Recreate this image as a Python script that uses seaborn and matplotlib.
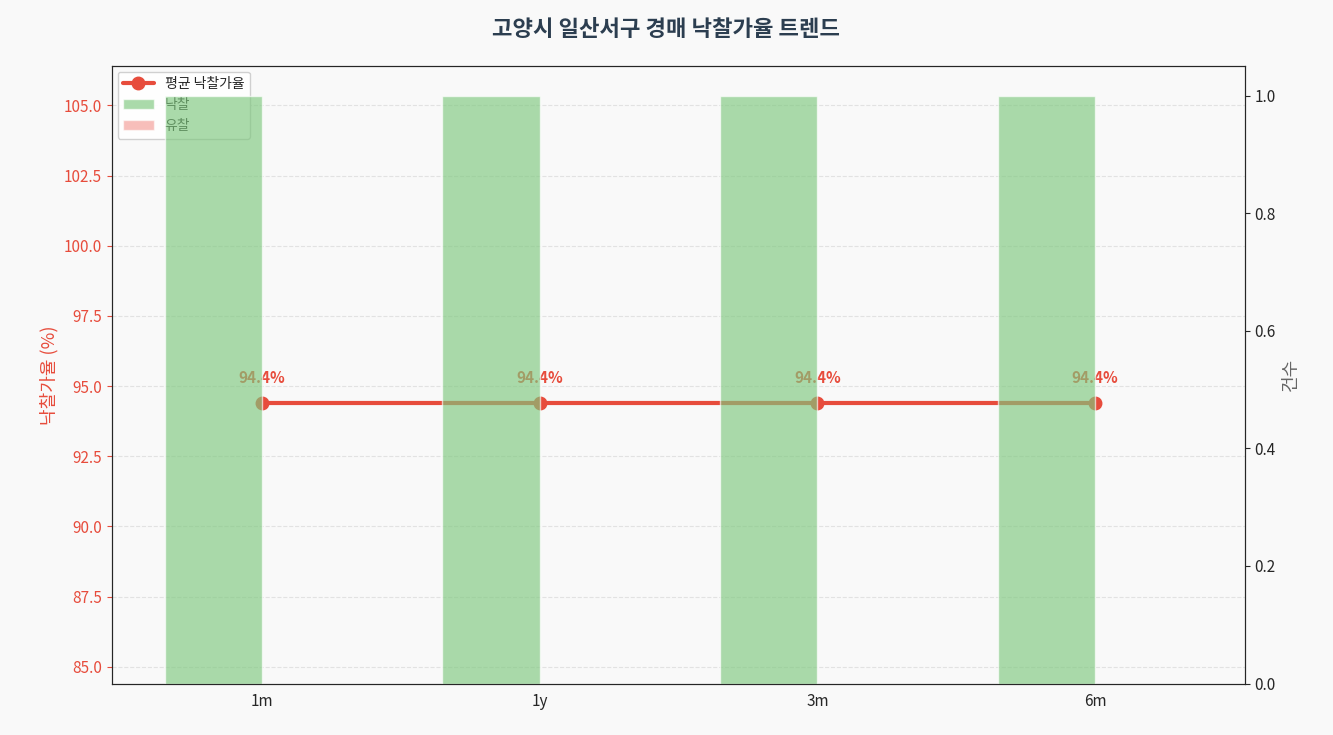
import matplotlib
matplotlib.use("Agg")
import matplotlib.pyplot as plt
import seaborn as sns
import numpy as np

periods = ["1m", "1y", "3m", "6m"]
avg_rate = [94.4, 94.4, 94.4, 94.4]
sold = [1, 1, 1, 1]
failed = [0, 0, 0, 0]

sns.set_style("white")
plt.rcParams['font.family'] = ['Noto Sans CJK KR', 'DejaVu Sans']
plt.rcParams['axes.unicode_minus'] = False

fig, ax = plt.subplots(figsize=(13.33, 7.35), dpi=100)
fig.patch.set_facecolor("#f9f9f9")
ax.set_facecolor("#f9f9f9")
x = np.arange(len(periods))

ax.plot(x, avg_rate, color="#e74c3c", lw=3, marker="o", ms=9, label="평균 낙찰가율", zorder=2)
for xi, v in zip(x, avg_rate):
    ax.annotate(f"{v:.1f}%", (xi, v), xytext=(0, 14), textcoords="offset points",
                ha="center", color="#e74c3c", fontsize=11, fontweight="bold")
ax.set_ylim(84.4, 106.4)
ax.set_xlim(-0.54, 3.54)
ax.set_xticks(x)
ax.set_xticklabels(periods, fontsize=11)
ax.set_ylabel("낙찰가율 (%)", color="#e74c3c", fontsize=13)
ax.tick_params(axis="y", colors="#e74c3c", labelsize=11)
ax.grid(axis="y", ls="--", alpha=0.5)

ax2 = ax.twinx()
ax2.bar(x - 0.175, sold, width=0.35, color="#7ec87e", alpha=0.65, label="낙찰")
ax2.bar(x + 0.175, failed, width=0.35, color="#f28b82", alpha=0.55, label="유찰")
ax2.set_ylim(0, 1.05)
ax2.set_ylabel("건수", color="#666666", fontsize=13)
ax2.tick_params(axis="y", labelsize=11)

h1, l1 = ax.get_legend_handles_labels()
h2, l2 = ax2.get_legend_handles_labels()
ax.legend(h1 + h2, l1 + l2, loc="upper left", fontsize=10, framealpha=0.9,
          borderaxespad=0.4, handlelength=2.2)

fig.suptitle("고양시 일산서구 경매 낙찰가율 트렌드", fontsize=16, fontweight="bold", color="#2c3e50", y=0.975)
fig.subplots_adjust(left=0.084, right=0.934, top=0.91, bottom=0.07)
fig.savefig("out.png", dpi=100, facecolor=fig.get_facecolor())
